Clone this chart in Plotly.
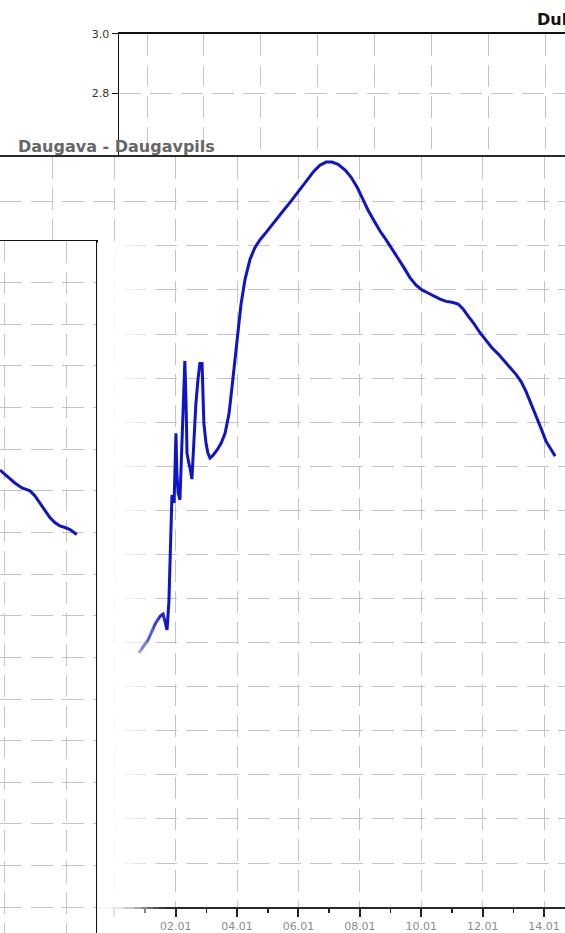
import plotly.graph_objects as go

# ---- Data -------------------------------------------------------------
# Daugava - Daugavpils: day of January (fractional) and water level (m)
main_day = [0.80, 1.10, 1.33, 1.49, 1.59, 1.65, 1.72, 1.78, 1.81, 1.85, 1.88, 1.95, 1.98,
            2.01, 2.04, 2.08, 2.14, 2.17, 2.21, 2.24, 2.27, 2.30, 2.34, 2.37, 2.43, 2.47,
            2.53, 2.56, 2.60, 2.66, 2.73, 2.79, 2.86, 2.89, 2.92, 2.99, 3.05, 3.12, 3.22,
            3.35, 3.48, 3.61, 3.74, 3.83, 3.93, 4.03, 4.13, 4.26, 4.42, 4.58, 4.75, 4.94,
            5.14, 5.33, 5.53, 5.72, 5.92, 6.11, 6.31, 6.51, 6.70, 6.90, 7.09, 7.29, 7.52,
            7.71, 7.91, 8.07, 8.26, 8.46, 8.66, 8.85, 9.05, 9.24, 9.44, 9.63, 9.83, 10.02,
            10.22, 10.41, 10.61, 10.81, 11.00, 11.20, 11.36, 11.52, 11.72, 11.91, 12.11,
            12.30, 12.50, 12.69, 12.89, 13.09, 13.25, 13.41, 13.57, 13.74, 13.90, 14.06,
            14.23, 14.36]
main_level = [1.577, 1.606, 1.642, 1.660, 1.665, 1.647, 1.629, 1.692, 1.775, 1.872, 1.935,
              1.917, 2.008, 2.075, 1.985, 1.940, 1.924, 1.985, 2.097, 2.154, 2.188, 2.239,
              2.143, 2.030, 2.007, 1.996, 1.971, 2.019, 2.075, 2.143, 2.199, 2.233, 2.233,
              2.176, 2.097, 2.052, 2.030, 2.019, 2.025, 2.037, 2.052, 2.075, 2.120, 2.176,
              2.244, 2.312, 2.368, 2.424, 2.469, 2.496, 2.514, 2.530, 2.548, 2.566, 2.582,
              2.598, 2.616, 2.634, 2.652, 2.670, 2.683, 2.690, 2.690, 2.685, 2.672, 2.656,
              2.633, 2.609, 2.582, 2.557, 2.533, 2.514, 2.494, 2.472, 2.450, 2.428, 2.411,
              2.400, 2.393, 2.386, 2.379, 2.374, 2.372, 2.368, 2.357, 2.341, 2.323, 2.303,
              2.285, 2.269, 2.255, 2.239, 2.224, 2.208, 2.192, 2.170, 2.143, 2.116, 2.086,
              2.057, 2.037, 2.023]

# Neighbouring station (inset, lower left)
inset_day = [11.84, 12.10, 12.32, 12.55, 12.81, 12.97, 13.19, 13.45, 13.61, 13.77,
             13.94, 14.10, 14.32]
inset_level = [2.050, 2.033, 2.019, 2.007, 2.000, 1.988, 1.964, 1.936, 1.924, 1.916,
               1.912, 1.907, 1.895]

# Tick labels of the date axis
tick_days = [-2, 0, 2, 4, 6, 8, 10, 12, 14]
tick_labels = ["", "", "02.01", "04.01", "06.01", "08.01", "10.01", "12.01", "14.01"]

# Upper chart (Dubna) y ticks
top_tickvals = [2.8, 3.0]
top_ticktext = ["2.8", "3.0"]

# ---- Figure -----------------------------------------------------------
W, H = 565, 933
GRID = "#c4c4c4"
DASH = "22px,9px"
BLUE = "#0f14c8"

def px(x):
    return x / W

def py(y):
    return (H - y) / H

fig = go.Figure()

fig.add_trace(go.Scatter(x=main_day, y=main_level, mode="lines",
                         line=dict(color=BLUE, width=3), xaxis="x", yaxis="y",
                         showlegend=False, hoverinfo="skip"))
fig.add_trace(go.Scatter(x=[], y=[], xaxis="x2", yaxis="y2", showlegend=False))
fig.add_trace(go.Scatter(x=inset_day, y=inset_level, mode="lines",
                         line=dict(color=BLUE, width=3), xaxis="x3", yaxis="y3",
                         showlegend=False, hoverinfo="skip"))

fig.update_layout(
    width=W, height=H, autosize=False,
    margin=dict(l=0, r=0, t=0, b=0, pad=0),
    paper_bgcolor="white", plot_bgcolor="white",
    font=dict(family="DejaVu Sans", size=11, color="#333"),
    # main chart
    xaxis=dict(domain=[0, 1], range=[-3.72, 14.68], anchor="y",
               tickmode="array", tickvals=tick_days, ticktext=tick_labels,
               ticks="outside", ticklen=8, tickwidth=2, tickcolor="#222",
               tickfont=dict(family="DejaVu Sans", size=11, color="#8c8c8c"),
               showline=True, linecolor="#2a2a2a", linewidth=2, mirror=True,
               showgrid=True, gridcolor=GRID, griddash=DASH, gridwidth=1,
               minor=dict(dtick=1, tick0=0, ticks="outside", ticklen=4,
                          tickwidth=1.5, tickcolor="#222", showgrid=False),
               zeroline=False, fixedrange=True),
    yaxis=dict(domain=[py(907), py(152)], range=[1.0, 2.7015], anchor="x",
               tick0=1.0, dtick=0.1, showticklabels=False, ticks="",
               showline=False, showgrid=True, gridcolor=GRID, griddash=DASH,
               zeroline=False, fixedrange=True),
    # upper chart
    xaxis2=dict(domain=[px(119), 1], range=[0, 7.838], anchor="y2", side="top",
                tick0=0.492, dtick=1, showticklabels=False, ticks="",
                showline=True, linecolor="#111", linewidth=1.5,
                showgrid=True, gridcolor=GRID, griddash=DASH, zeroline=False,
                fixedrange=True),
    yaxis2=dict(domain=[py(152), py(28)], range=[2.5867, 3.0], anchor="x2",
                tickmode="array", tickvals=top_tickvals, ticktext=top_ticktext,
                ticks="outside", ticklen=6, tickcolor="#111",
                tickfont=dict(family="DejaVu Sans", size=11, color="#333"),
                showline=True, linecolor="#111", linewidth=1.5,
                showgrid=True, gridcolor=GRID, griddash=DASH, zeroline=False,
                fixedrange=True),
    # inset chart (lower left)
    xaxis3=dict(domain=[0, px(96)], range=[11.84, 14.94], anchor="y3", side="top",
                tickvals=[12, 14], showticklabels=False, ticks="",
                showline=True, linecolor="#111", linewidth=1.5,
                showgrid=True, gridcolor=GRID, griddash=DASH, zeroline=False,
                fixedrange=True),
    yaxis3=dict(domain=[0, py(237)], range=[0.938, 2.599], anchor="x3", side="right",
                tick0=1.0, dtick=0.1, showticklabels=False, ticks="",
                showline=True, linecolor="#111", linewidth=1.5,
                showgrid=True, gridcolor=GRID, griddash=DASH, zeroline=False,
                fixedrange=True),
)

# titles
fig.add_annotation(text="<b>Daugava - Daugavpils</b>", xref="paper", yref="paper",
                   x=px(16), y=py(141), xanchor="left", yanchor="middle",
                   showarrow=False, font=dict(family="DejaVu Sans", size=16, color="#666"))
fig.add_annotation(text="<b>Dubna</b>", xref="paper", yref="paper",
                   x=px(535), y=py(14), xanchor="left", yanchor="middle",
                   showarrow=False, font=dict(family="DejaVu Sans", size=16, color="#111"))

# white fade over the left part of the main chart (screenshot overlap)
strips = [(97, 112, 0.96), (112, 124, 0.88), (124, 134, 0.75), (134, 141, 0.6),
          (141, 147, 0.45), (147, 153, 0.3), (153, 159, 0.18), (159, 165, 0.08)]
for x0, x1, op in strips:
    fig.add_shape(type="rect", xref="paper", yref="paper",
                  x0=px(x0), x1=px(x1), y0=0, y1=py(238),
                  fillcolor="white", opacity=op, line=dict(width=0), layer="above")

fig.write_html(
    "out.html",
    config={"displayModeBar": False, "staticPlot": True},
    post_script="document.body.style.margin='0';document.body.style.padding='0';"
                "document.body.style.overflow='hidden';",
)
